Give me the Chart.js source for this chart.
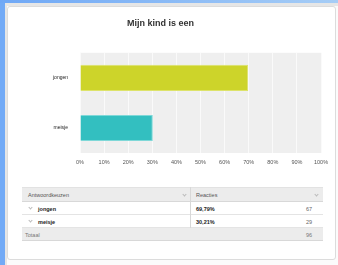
<!DOCTYPE html>
<html>
<head>
<meta charset="utf-8">
<script src="https://cdn.jsdelivr.net/npm/chart.js@4/dist/chart.umd.min.js"></script>
<style>
  html, body { margin:0; padding:0; width:338px; height:265px; overflow:hidden; background:#fbfbfb; font-family:"Liberation Sans", Arial, sans-serif; }
  #leftbar { position:absolute; left:0; top:0; width:5px; height:265px; background:#72aaf6; }
  #leftgrey { position:absolute; left:5px; top:3px; width:2px; height:262px; background:#e6e6e6; }
  #topbar { position:absolute; left:0; top:0; width:338px; height:3px; background:linear-gradient(to right,#6fa8f6,#a6cdf6); }
  #topgrey { position:absolute; left:5px; top:3px; width:333px; height:3px; background:#e6e6e6; }
  #panel { position:absolute; left:7px; top:6px; width:329px; height:254px; background:#fff; border:1px solid #dcdcdc; border-radius:3px; box-sizing:border-box; }
  #chartwrap { position:absolute; left:0; top:0; width:338px; height:175px; }
  .cell { position:absolute; font-size:5.5px; line-height:12px; white-space:nowrap; }
  .chev { position:absolute; width:2px; height:2px; border-right:1px solid #bbb; border-bottom:1px solid #bbb; transform:rotate(45deg); }
  .bg { position:absolute; }
</style>
</head>
<body>
<div id="leftbar"></div>
<div id="topbar"></div>
<div id="leftgrey"></div>
<div id="topgrey"></div>
<div id="panel"></div>
<div id="chartwrap"><canvas id="c" width="338" height="175"></canvas></div>

<!-- table -->
<div class="bg" style="left:22px;top:187px;width:301px;height:15px;background:#ececec;border-top:1px solid #e2e2e2;border-bottom:1px solid #d8d8d8;box-sizing:border-box;"></div>
<div class="bg" style="left:22px;top:202px;width:301px;height:13px;background:#fff;border-bottom:1px solid #e4e4e4;box-sizing:border-box;"></div>
<div class="bg" style="left:22px;top:215px;width:301px;height:13px;background:#fff;border-bottom:1px solid #e4e4e4;box-sizing:border-box;"></div>
<div class="bg" style="left:22px;top:228px;width:301px;height:13px;background:#ececec;border-bottom:1px solid #d8d8d8;box-sizing:border-box;"></div>
<div class="bg" style="left:190px;top:187px;width:1px;height:41px;background:#d8d8d8;"></div>
<div id="table"></div>

<script>
const categories = ['jongen', 'meisje'];
const percentages = [69.79, 30.21];
const counts = [67, 29];
const total = 96;
const tickValues = [0, 10, 20, 30, 40, 50, 60, 70, 80, 90, 100];
const chartTitle = 'Mijn kind is een';
const colHeaders = ['Antwoordkeuzen', 'Reacties'];
const totalLabel = 'Totaal';
const barColors = ['#cdd42a', '#33bfc0'];
const barBorders = ['#dde36a', '#7fd8d8'];

const bgPlugin = {
  id: 'plotbg',
  beforeDraw(chart) {
    const a = chart.chartArea, ctx = chart.ctx;
    ctx.save();
    ctx.fillStyle = '#efefef';
    ctx.fillRect(a.left, a.top, a.right - a.left, a.bottom - a.top);
    ctx.restore();
  }
};

new Chart(document.getElementById('c'), {
  type: 'bar',
  data: {
    labels: categories,
    datasets: [{
      data: percentages,
      backgroundColor: barColors,
      borderColor: barBorders,
      borderWidth: 1,
      categoryPercentage: 1,
      barPercentage: 0.52
    }]
  },
  options: {
    indexAxis: 'y',
    responsive: false,
    animation: false,
    layout: { padding: { left: 0, right: 17, top: 0, bottom: 0 } },
    plugins: {
      legend: { display: false },
      tooltip: { enabled: false },
      title: {
        display: true,
        text: chartTitle,
        color: '#333',
        font: { family: 'Liberation Sans', size: 9, weight: 'bold', lineHeight: 1.2 },
        padding: { top: 18, bottom: 24 }
      }
    },
    scales: {
      x: {
        min: 0, max: 100,
        afterBuildTicks(scale) { scale.ticks = tickValues.map(v => ({ value: v })); },
        afterFit(scale) { scale.height = 22; },
        ticks: {
          callback: v => v + '%',
          color: '#555',
          font: { family: 'Liberation Sans', size: 5.5 },
          padding: 6,
          maxRotation: 0,
          autoSkip: false
        },
        grid: { color: '#fafafa', lineWidth: 1, drawTicks: false },
        border: { display: false }
      },
      y: {
        afterFit(scale) { scale.width = 80; },
        ticks: {
          color: '#222',
          font: { family: 'Liberation Sans', size: 5 },
          padding: 12
        },
        grid: { display: false, drawTicks: false },
        border: { display: false }
      }
    }
  },
  plugins: [bgPlugin]
});

// table
const t = document.getElementById('table');
function cell(text, x, y, opts) {
  const d = document.createElement('div');
  d.className = 'cell';
  d.textContent = text;
  d.style.left = x + 'px';
  d.style.top = (y - 6) + 'px';
  d.style.color = (opts && opts.color) || '#555';
  if (opts && opts.bold) d.style.fontWeight = 'bold';
  if (opts && opts.right) { d.style.left = ''; d.style.right = (338 - x) + 'px'; }
  t.appendChild(d);
}
function chev(x, y) {
  const d = document.createElement('div');
  d.className = 'chev';
  d.style.left = (x - 1.5) + 'px';
  d.style.top = (y - 2.5) + 'px';
  t.appendChild(d);
}
cell(colHeaders[0], 28, 195);
chev(184, 195);
cell(colHeaders[1], 196, 195);
chev(316, 195);
const rowY = [208.5, 221.5];
categories.forEach((c, i) => {
  chev(30, rowY[i]);
  cell(c, 38, rowY[i], { color: '#222', bold: true });
  cell(percentages[i].toFixed(2).replace('.', ',') + '%', 196, rowY[i], { color: '#222', bold: true });
  cell(String(counts[i]), 312, rowY[i], { color: '#666', right: true });
});
cell(totalLabel, 25, 234.5, { color: '#777' });
cell(String(total), 312, 234.5, { color: '#777', right: true });
</script>
</body>
</html>
